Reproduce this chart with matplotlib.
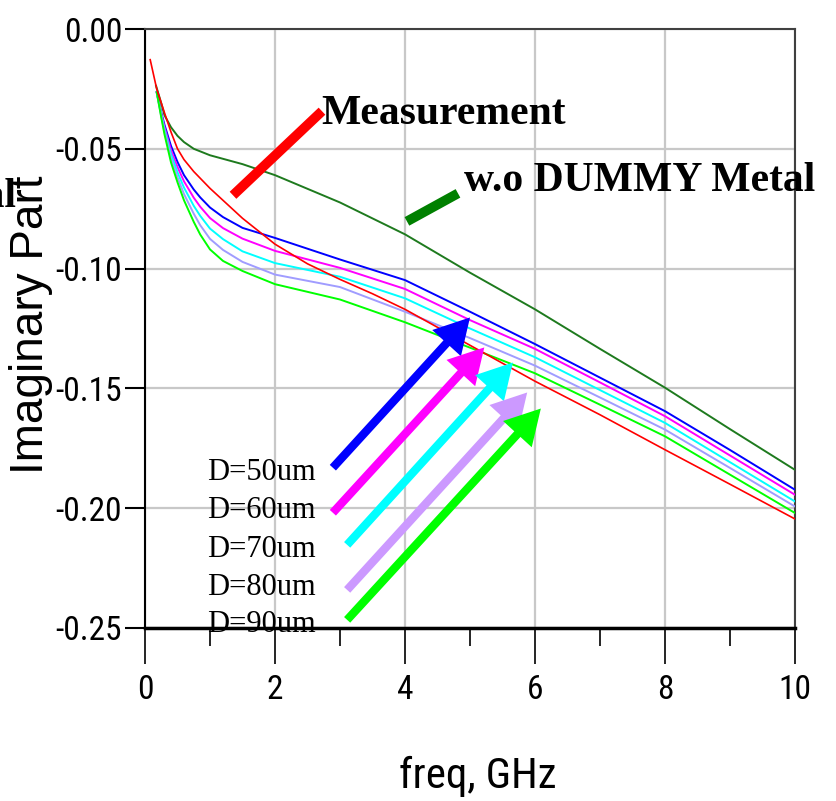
import matplotlib
matplotlib.use("Agg")
import matplotlib.pyplot as plt
import matplotlib.font_manager as fm
from matplotlib.ticker import MultipleLocator

# ---------------- data ----------------
freq_sim = [0.18, 0.25, 0.3, 0.4, 0.5, 0.6, 0.75, 0.85, 1.0, 1.2, 1.5, 2.0, 3.0, 4.0, 5.0, 6.0, 7.0, 8.0, 9.0, 10.0]
d50 = [-0.0264, -0.0348, -0.0400, -0.0488, -0.0555, -0.0610, -0.0670, -0.0703, -0.0745, -0.0785, -0.0830, -0.0872, -0.0962, -0.1048, -0.1180, -0.1315, -0.1455, -0.1595, -0.1757, -0.1923]
d60 = [-0.0264, -0.0353, -0.0410, -0.0505, -0.0576, -0.0636, -0.0704, -0.0742, -0.0789, -0.0831, -0.0875, -0.0926, -0.0997, -0.1085, -0.1215, -0.1335, -0.1475, -0.1616, -0.1780, -0.1944]
d70 = [-0.0264, -0.0358, -0.0420, -0.0522, -0.0598, -0.0662, -0.0738, -0.0780, -0.0833, -0.0877, -0.0928, -0.0977, -0.1034, -0.1124, -0.1250, -0.1370, -0.1507, -0.1644, -0.1808, -0.1972]
d80 = [-0.0264, -0.0364, -0.0430, -0.0540, -0.0619, -0.0689, -0.0771, -0.0819, -0.0876, -0.0922, -0.0972, -0.1025, -0.1077, -0.1180, -0.1290, -0.1405, -0.1538, -0.1672, -0.1832, -0.1993]
d90 = [-0.0264, -0.0369, -0.0440, -0.0557, -0.0640, -0.0715, -0.0805, -0.0858, -0.0920, -0.0968, -0.1010, -0.1065, -0.1129, -0.1224, -0.1330, -0.1437, -0.1568, -0.1700, -0.1860, -0.2020]

freq_meas = [0.08, 0.18, 0.3, 0.4, 0.5, 0.6, 0.75, 1.0, 1.5, 2.0, 2.5, 3.0, 3.5, 4.0, 5.0, 6.0, 7.0, 8.0, 9.0, 10.0]
measurement = [-0.0128, -0.0250, -0.0350, -0.0430, -0.0500, -0.0545, -0.0595, -0.0665, -0.0790, -0.0898, -0.0980, -0.1045, -0.1105, -0.1170, -0.1320, -0.1470, -0.1610, -0.1756, -0.1900, -0.2045]

freq_wo = [0.17, 0.25, 0.3, 0.4, 0.5, 0.6, 0.75, 1.0, 1.5, 2.0, 3.0, 4.0, 5.0, 6.0, 7.0, 8.0, 9.0, 10.0]
wo_dummy = [-0.0237, -0.0310, -0.0360, -0.0410, -0.0446, -0.0472, -0.0500, -0.0527, -0.0564, -0.0610, -0.0724, -0.0857, -0.1017, -0.1170, -0.1335, -0.1497, -0.1670, -0.1840]

d_labels = ["D=50um", "D=60um", "D=70um", "D=80um", "D=90um"]
curve_colors = ["#0000ff", "#ff00ff", "#00ffff", "#a09cff", "#00ff00"]
arrow_colors = ["#0000ff", "#ff00ff", "#00ffff", "#cc99ff", "#00ff00"]
# arrow tails / tips (data coords)
arrow_tail_x = [2.89, 2.89, 3.11, 3.11, 3.11]
arrow_tail_y = [-0.1831, -0.2019, -0.2153, -0.2341, -0.2466]
arrow_tip_x = [5.00, 5.22, 5.66, 5.88, 6.09]
arrow_tip_y = [-0.1204, -0.1329, -0.1392, -0.1517, -0.1584]
label_x = 0.954
label_y = [-0.1881, -0.2040, -0.2203, -0.2362, -0.2517]

x_ticks = [0, 2, 4, 6, 8, 10]
y_ticks = [0.00, -0.05, -0.10, -0.15, -0.20, -0.25]

# ---------------- fonts ----------------
names = {f.name for f in fm.fontManager.ttflist}
narrow = next((n for n in ["Liberation Sans Narrow", "Arial Narrow", "Roboto Condensed"] if n in names), "Liberation Sans")
sans = [narrow, "Liberation Sans", "DejaVu Sans"]
arial = ["Liberation Sans", "DejaVu Sans"]
serif = ["Liberation Serif", "DejaVu Serif"]

W, H = 836, 801
fig = plt.figure(figsize=(W / 100, H / 100), dpi=100)
ax = fig.add_axes([145 / W, 1 - 628 / H, 650 / W, 599 / H])

ax.set_xlim(0, 10)
ax.set_ylim(-0.25, 0.0)

ax.grid(True, which="major", color="#c8c8c8", lw=1.6, zorder=0)
ax.set_axisbelow(True)

series = [d50, d60, d70, d80, d90]
for vals, c in zip(series, curve_colors):
    ax.plot(freq_sim, vals, color=c, lw=1.4, zorder=3)
ax.plot(freq_wo, wo_dummy, color="#1e7a1e", lw=1.4, zorder=3)
ax.plot(freq_meas, measurement, color="#ff0000", lw=1.2, zorder=4)

# annotation strokes
ax.plot([1.354, 2.723], [-0.0694, -0.0343], color="#ff0000", lw=7, solid_capstyle="butt", zorder=5)
ax.plot([4.03, 4.815], [-0.0803, -0.0686], color="#008000", lw=7, solid_capstyle="butt", zorder=5)
ax.text(2.708, -0.0395, "Measurement", family=serif, fontweight="bold", fontsize=30,
        ha="left", va="baseline", zorder=6, clip_on=False)
ax.text(4.908, -0.0676, "w.o DUMMY Metal", family=serif, fontweight="bold", fontsize=30,
        ha="left", va="baseline", zorder=6, clip_on=False)
fig.text(16 / W, 1 - 207 / H, "Metal", family=serif, fontweight="bold", fontsize=30,
         ha="right", va="baseline")

for tx, ty, hx, hy, c in zip(arrow_tail_x, arrow_tail_y, arrow_tip_x, arrow_tip_y, arrow_colors):
    ax.annotate("", xy=(hx, hy), xytext=(tx, ty),
                arrowprops=dict(arrowstyle="simple,head_length=2.5,head_width=2.8,tail_width=0.6",
                                color=c, lw=0, mutation_scale=10, shrinkA=0, shrinkB=0),
                zorder=7, annotation_clip=False)

for lab, ly in zip(d_labels, label_y):
    ax.text(label_x, ly, lab, family=serif, fontsize=22, ha="left", va="baseline",
            zorder=8, clip_on=False)

# ticks
ax.set_xticks(x_ticks)
ax.set_xticklabels([f"{t:g}" for t in x_ticks])
ax.xaxis.set_minor_locator(MultipleLocator(1))
ax.set_yticks(y_ticks)
ax.set_yticklabels([f"{t:.2f}" if t != 0 else "0.00" for t in y_ticks])
ax.tick_params(axis="x", which="major", direction="out", length=26, width=1.2, pad=7,
               labelsize=24, colors="black")
ax.tick_params(axis="x", which="minor", direction="out", length=13, width=1.2)
ax.tick_params(axis="y", which="major", direction="out", length=14.4, width=1.5, pad=2,
               labelsize=24)
for lab in ax.get_xticklabels() + ax.get_yticklabels():
    lab.set_family(sans)

for side in ["top", "right"]:
    ax.spines[side].set_color("#404040")
    ax.spines[side].set_linewidth(1.5)
ax.spines["left"].set_linewidth(1.5)
ax.spines["bottom"].set_linewidth(2.5)

fig.text(31 / W, 1 - 325 / H, "Imaginary Part", family=arial, fontsize=33, rotation=90,
         ha="center", va="center")
fig.text(478 / W, 1 - 776 / H, "freq, GHz", family=sans, fontsize=31,
         ha="center", va="center")

fig.savefig("out.png", dpi=100)
